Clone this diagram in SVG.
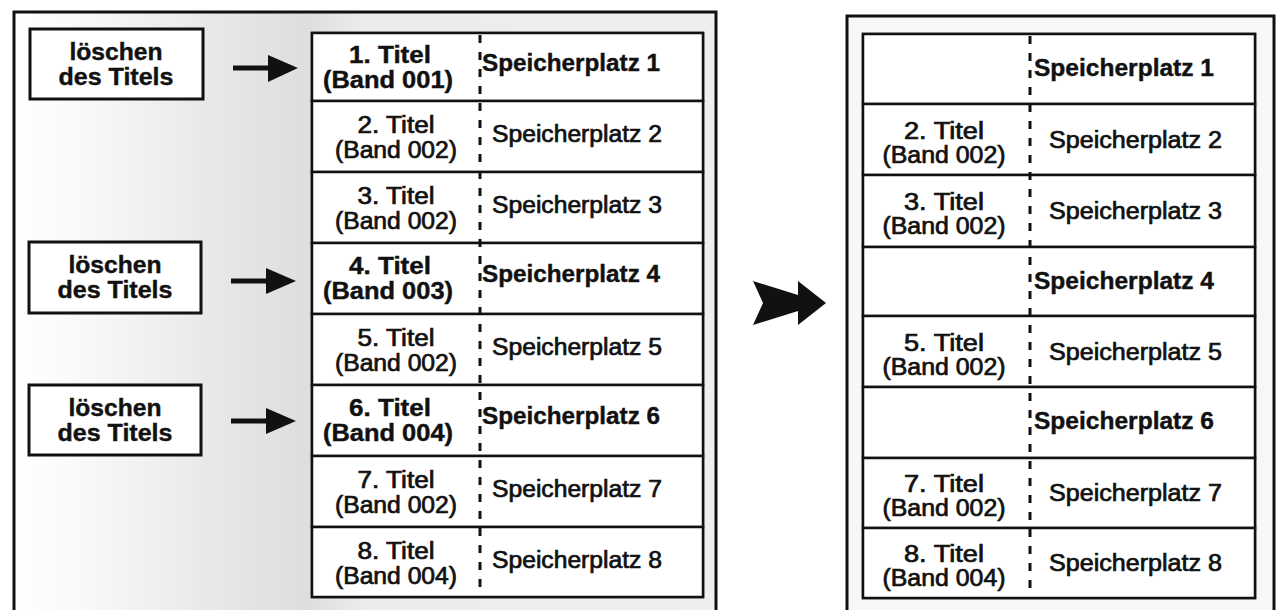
<svg xmlns="http://www.w3.org/2000/svg" width="1278" height="610" viewBox="0 0 1278 610">
<defs>
<linearGradient id="bgL" x1="14" y1="0" x2="716" y2="0" gradientUnits="userSpaceOnUse">
<stop offset="0" stop-color="#ffffff"/>
<stop offset="0.12" stop-color="#f7f7f7"/>
<stop offset="0.28" stop-color="#e8e8e8"/>
<stop offset="0.42" stop-color="#dedede"/>
<stop offset="0.5" stop-color="#ececec"/>
<stop offset="1" stop-color="#efefef"/>
</linearGradient>
<style>
.box{fill:#fff;stroke:#111;stroke-width:3}
.row{fill:#fff;stroke:#111;stroke-width:2.5}
.dash{stroke:#111;stroke-width:3;stroke-dasharray:8 9;fill:none}
text{font-family:"Liberation Sans",Arial,sans-serif;font-size:23px;fill:#111}
.b{font-weight:bold;stroke:#111;stroke-width:0.4}
.n{font-weight:normal;stroke:#111;stroke-width:0.7}
.c{text-anchor:middle}
</style>
</defs>

<g id="panel-left">
<rect x="14" y="12" width="702" height="610" fill="url(#bgL)" stroke="#111" stroke-width="3"/>
</g>

<g id="del-1">
<rect class="box" x="30" y="29" width="173" height="70"/>
<text class="b c" x="116" y="60" textLength="93" lengthAdjust="spacingAndGlyphs">löschen</text>
<text class="b c" x="116" y="85" textLength="115" lengthAdjust="spacingAndGlyphs">des Titels</text>
</g>
<g id="del-2">
<rect class="box" x="29" y="242" width="172" height="71"/>
<text class="b c" x="115" y="273" textLength="93" lengthAdjust="spacingAndGlyphs">löschen</text>
<text class="b c" x="115" y="298" textLength="115" lengthAdjust="spacingAndGlyphs">des Titels</text>
</g>
<g id="del-3">
<rect class="box" x="29" y="385" width="172" height="70"/>
<text class="b c" x="115" y="416" textLength="93" lengthAdjust="spacingAndGlyphs">löschen</text>
<text class="b c" x="115" y="441" textLength="115" lengthAdjust="spacingAndGlyphs">des Titels</text>
</g>

<g id="connectors">
<path d="M233,68 H272" stroke="#111" stroke-width="5" fill="none"/>
<polygon points="268,55 298,68 268,82" fill="#111"/>
<path d="M231,281 H270" stroke="#111" stroke-width="5" fill="none"/>
<polygon points="266,268 296,281 266,294" fill="#111"/>
<path d="M231,421 H270" stroke="#111" stroke-width="5" fill="none"/>
<polygon points="266,408 296,421 266,434" fill="#111"/>
<path d="M753,281 L798,295 L798,281 L826,303 L798,325 L798,311 L753,325 L763,303 Z" fill="#111"/>
</g>

<g id="table-left">
<rect class="row" x="312" y="33" width="391" height="564"/>
</g>
<g id="L1"><rect class="row" x="312" y="33" width="391" height="68"/>
<text class="b c" x="390" y="63" textLength="82" lengthAdjust="spacingAndGlyphs">1. Titel</text>
<text class="b c" x="388" y="88" textLength="130" lengthAdjust="spacingAndGlyphs">(Band 001)</text>
<text class="b" x="482" y="71" textLength="178" lengthAdjust="spacingAndGlyphs">Speicherplatz 1</text></g>
<g id="L2"><rect class="row" x="312" y="101" width="391" height="71"/>
<text class="n c" x="396" y="133" textLength="77" lengthAdjust="spacingAndGlyphs">2. Titel</text>
<text class="n c" x="396" y="158" textLength="122" lengthAdjust="spacingAndGlyphs">(Band 002)</text>
<text class="n" x="492" y="142" textLength="170" lengthAdjust="spacingAndGlyphs">Speicherplatz 2</text></g>
<g id="L3"><rect class="row" x="312" y="172" width="391" height="71"/>
<text class="n c" x="396" y="204" textLength="77" lengthAdjust="spacingAndGlyphs">3. Titel</text>
<text class="n c" x="396" y="229" textLength="122" lengthAdjust="spacingAndGlyphs">(Band 002)</text>
<text class="n" x="492" y="213" textLength="170" lengthAdjust="spacingAndGlyphs">Speicherplatz 3</text></g>
<g id="L4"><rect class="row" x="312" y="243" width="391" height="71"/>
<text class="b c" x="390" y="274" textLength="82" lengthAdjust="spacingAndGlyphs">4. Titel</text>
<text class="b c" x="388" y="299" textLength="130" lengthAdjust="spacingAndGlyphs">(Band 003)</text>
<text class="b" x="482" y="282" textLength="178" lengthAdjust="spacingAndGlyphs">Speicherplatz 4</text></g>
<g id="L5"><rect class="row" x="312" y="314" width="391" height="71"/>
<text class="n c" x="396" y="346" textLength="77" lengthAdjust="spacingAndGlyphs">5. Titel</text>
<text class="n c" x="396" y="371" textLength="122" lengthAdjust="spacingAndGlyphs">(Band 002)</text>
<text class="n" x="492" y="355" textLength="170" lengthAdjust="spacingAndGlyphs">Speicherplatz 5</text></g>
<g id="L6"><rect class="row" x="312" y="385" width="391" height="71"/>
<text class="b c" x="390" y="416" textLength="82" lengthAdjust="spacingAndGlyphs">6. Titel</text>
<text class="b c" x="388" y="441" textLength="130" lengthAdjust="spacingAndGlyphs">(Band 004)</text>
<text class="b" x="482" y="424" textLength="178" lengthAdjust="spacingAndGlyphs">Speicherplatz 6</text></g>
<g id="L7"><rect class="row" x="312" y="456" width="391" height="71"/>
<text class="n c" x="396" y="488" textLength="77" lengthAdjust="spacingAndGlyphs">7. Titel</text>
<text class="n c" x="396" y="513" textLength="122" lengthAdjust="spacingAndGlyphs">(Band 002)</text>
<text class="n" x="492" y="497" textLength="170" lengthAdjust="spacingAndGlyphs">Speicherplatz 7</text></g>
<g id="L8"><rect class="row" x="312" y="527" width="391" height="70"/>
<text class="n c" x="396" y="559" textLength="77" lengthAdjust="spacingAndGlyphs">8. Titel</text>
<text class="n c" x="396" y="584" textLength="122" lengthAdjust="spacingAndGlyphs">(Band 004)</text>
<text class="n" x="492" y="568" textLength="170" lengthAdjust="spacingAndGlyphs">Speicherplatz 8</text></g>
<g id="L-divider"><line class="dash" x1="480" y1="35" x2="480" y2="596"/></g>

<g id="panel-right">
<rect x="847" y="16" width="427" height="606" fill="#f7f7f7" stroke="#111" stroke-width="3"/>
</g>
<g id="table-right">
<rect class="row" x="863" y="34" width="392" height="564"/>
</g>
<g id="R1"><rect class="row" x="863" y="34" width="392" height="70"/>
<text class="b" x="1034" y="76" textLength="180" lengthAdjust="spacingAndGlyphs">Speicherplatz 1</text></g>
<g id="R2"><rect class="row" x="863" y="104" width="392" height="71"/>
<text class="n c" x="944" y="139" textLength="80" lengthAdjust="spacingAndGlyphs">2. Titel</text>
<text class="n c" x="944" y="163" textLength="123" lengthAdjust="spacingAndGlyphs">(Band 002)</text>
<text class="n" x="1049" y="148" textLength="173" lengthAdjust="spacingAndGlyphs">Speicherplatz 2</text></g>
<g id="R3"><rect class="row" x="863" y="175" width="392" height="72"/>
<text class="n c" x="944" y="210" textLength="80" lengthAdjust="spacingAndGlyphs">3. Titel</text>
<text class="n c" x="944" y="234" textLength="123" lengthAdjust="spacingAndGlyphs">(Band 002)</text>
<text class="n" x="1049" y="219" textLength="173" lengthAdjust="spacingAndGlyphs">Speicherplatz 3</text></g>
<g id="R4"><rect class="row" x="863" y="247" width="392" height="69"/>
<text class="b" x="1034" y="289" textLength="180" lengthAdjust="spacingAndGlyphs">Speicherplatz 4</text></g>
<g id="R5"><rect class="row" x="863" y="316" width="392" height="71"/>
<text class="n c" x="944" y="351" textLength="80" lengthAdjust="spacingAndGlyphs">5. Titel</text>
<text class="n c" x="944" y="375" textLength="123" lengthAdjust="spacingAndGlyphs">(Band 002)</text>
<text class="n" x="1049" y="360" textLength="173" lengthAdjust="spacingAndGlyphs">Speicherplatz 5</text></g>
<g id="R6"><rect class="row" x="863" y="387" width="392" height="71"/>
<text class="b" x="1034" y="429" textLength="180" lengthAdjust="spacingAndGlyphs">Speicherplatz 6</text></g>
<g id="R7"><rect class="row" x="863" y="458" width="392" height="70"/>
<text class="n c" x="944" y="492" textLength="80" lengthAdjust="spacingAndGlyphs">7. Titel</text>
<text class="n c" x="944" y="516" textLength="123" lengthAdjust="spacingAndGlyphs">(Band 002)</text>
<text class="n" x="1049" y="501" textLength="173" lengthAdjust="spacingAndGlyphs">Speicherplatz 7</text></g>
<g id="R8"><rect class="row" x="863" y="528" width="392" height="70"/>
<text class="n c" x="944" y="562" textLength="80" lengthAdjust="spacingAndGlyphs">8. Titel</text>
<text class="n c" x="944" y="586" textLength="123" lengthAdjust="spacingAndGlyphs">(Band 004)</text>
<text class="n" x="1049" y="571" textLength="173" lengthAdjust="spacingAndGlyphs">Speicherplatz 8</text></g>
<g id="R-divider"><line class="dash" x1="1030" y1="36" x2="1030" y2="597"/></g>
</svg>
